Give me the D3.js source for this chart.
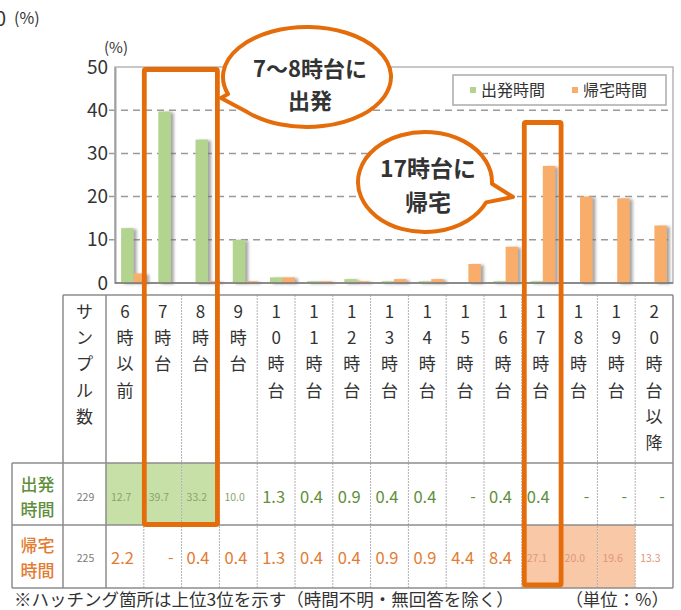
<!DOCTYPE html>
<html lang="ja">
<head>
<meta charset="utf-8">
<script src="https://cdn.jsdelivr.net/npm/d3@7"></script>
<style>
  html, body { margin: 0; padding: 0; background: #fff; }
  svg { display: block; font-family: "Noto Sans CJK JP", "Noto Sans", sans-serif; }
</style>
</head>
<body>
<svg id="chart" width="681" height="610"></svg>
<script>
// 出発時間・帰宅時間の分布（%）
const categories = ["6時以前","7時台","8時台","9時台","10時台","11時台","12時台","13時台","14時台","15時台","16時台","17時台","18時台","19時台","20時台以降"];
const seriesNames = ["出発時間","帰宅時間"];
const departure = [12.7,39.7,33.2,10.0,1.3,0.4,0.9,0.4,0.4,null,0.4,0.4,null,null,null];
const homecoming = [2.2,null,0.4,0.4,1.3,0.4,0.4,0.9,0.9,4.4,8.4,27.1,20.0,19.6,13.3];
const sampleSizes = [229,225];
const yTicks = [0,10,20,30,40,50];
const sampleHeader = "サンプル数";
const callouts = [
  { lines: ["7～8時台に","出発"] },
  { lines: ["17時台に","帰宅"] }
];
const footnote = "※ハッチング箇所は上位3位を示す（時間不明・無回答を除く）";
const unitNote = "（単位：%）";

const seriesData = [departure, homecoming];
const barColors = ["#b3d48e", "#f8ad6b"];
const cellColors = ["#c6e0a8", "#f9c8a6"];
const textColors = ["#5f8f3c", "#e27c33"];
const smallTextColors = ["#8aa36e", "#e0977a"];
const accent = "#e46c0a";

const svg = d3.select("#chart");

// drop shadow for bars
const defs = svg.append("defs");
const shadow = defs.append("filter").attr("id", "barShadow")
  .attr("x", "-50%").attr("y", "-10%").attr("width", "200%").attr("height", "120%");
shadow.append("feDropShadow").attr("dx", 3).attr("dy", 1).attr("stdDeviation", 1.8)
  .attr("flood-color", "#6b6b6b").attr("flood-opacity", 0.6);

// ---- plot area ----
const plot = { left: 115, right: 673, top: 67, bottom: 283 };
const x0 = d3.scaleBand().domain(categories).range([plot.left, plot.right]);
const x1 = d3.scaleBand().domain(seriesNames)
  .range([x0.bandwidth() * 0.165, x0.bandwidth() * 0.835]);
const y = d3.scaleLinear().domain([0, 50]).range([plot.bottom, plot.top]);

// top-left remnant label
svg.append("text").attr("x", -5).attr("y", 26).attr("font-size", 20).attr("fill", "#333").text("0");
svg.append("text").attr("x", 14).attr("y", 24).attr("font-size", 16).attr("fill", "#333").text("(%)");

// dashed grid
svg.append("g").selectAll("line").data(yTicks.filter(t => t > 0 && t < 50)).join("line")
  .attr("x1", plot.left - 6).attr("x2", plot.right)
  .attr("y1", d => y(d)).attr("y2", d => y(d))
  .attr("stroke", "#9a9a9a").attr("stroke-width", 1.5).attr("stroke-dasharray", "7,5");

// frame
svg.append("rect").attr("x", plot.left).attr("y", plot.top)
  .attr("width", plot.right - plot.left).attr("height", plot.bottom - plot.top)
  .attr("fill", "none").attr("stroke", "#b5b5b5").attr("stroke-width", 1.5);

// y axis
const yAxis = d3.axisLeft(y).tickValues(yTicks).tickSize(0).tickPadding(7);
const gy = svg.append("g").attr("transform", `translate(${plot.left},0)`).call(yAxis);
gy.select(".domain").attr("stroke", "#a0a0a0").attr("stroke-width", 2);
gy.selectAll("text").attr("font-size", 19).attr("fill", "#333")
  .attr("font-family", "'Noto Sans CJK JP', sans-serif");
svg.append("text").attr("x", 104).attr("y", 53).attr("font-size", 15).attr("fill", "#333").text("(%)");

// bars
const bars = svg.append("g").attr("filter", "url(#barShadow)");
seriesData.forEach((vals, si) => {
  bars.append("g").selectAll("rect")
    .data(categories.map((c, i) => ({ c, v: vals[i] })).filter(d => d.v != null))
    .join("rect")
    .attr("x", d => x0(d.c) + x1(seriesNames[si]))
    .attr("y", d => y(d.v))
    .attr("width", x1.bandwidth())
    .attr("height", d => y(0) - y(d.v))
    .attr("fill", barColors[si]);
});

// baseline
svg.append("line").attr("x1", plot.left).attr("x2", plot.right)
  .attr("y1", y(0)).attr("y2", y(0)).attr("stroke", "#777").attr("stroke-width", 1.5);

// legend
const lg = svg.append("g");
lg.append("rect").attr("x", 453).attr("y", 75).attr("width", 213).attr("height", 30)
  .attr("fill", "#fff").attr("stroke", "#aaa").attr("stroke-width", 1.5);
const legendX = [470, 572];
seriesNames.forEach((name, i) => {
  lg.append("rect").attr("x", legendX[i]).attr("y", 87).attr("width", 6).attr("height", 6).attr("fill", barColors[i]);
  lg.append("text").attr("x", legendX[i] + 11).attr("y", 96).attr("font-size", 16)
    .attr("fill", "#333").text(name);
});

// ---- table ----
const table = { left: 12, labelRight: 63, sampleRight: 106, right: 673,
  top: 295, headBottom: 463, row1Bottom: 525, bottom: 588 };
const tx = d3.scaleBand().domain(categories).range([table.sampleRight, table.right]);
const rowTops = [table.headBottom, table.row1Bottom];
const rowBottoms = [table.row1Bottom, table.bottom];

// highlighted top-3 cells
const top3 = seriesData.map(vals => vals.map((v, i) => ({ v, i })).filter(d => d.v != null)
  .sort((a, b) => b.v - a.v).slice(0, 3).map(d => d.i));
seriesData.forEach((vals, si) => {
  svg.append("g").selectAll("rect").data(top3[si]).join("rect")
    .attr("x", i => tx(categories[i])).attr("y", rowTops[si])
    .attr("width", tx.bandwidth()).attr("height", rowBottoms[si] - rowTops[si])
    .attr("fill", cellColors[si]);
});

// grid lines of table
const tg = svg.append("g");
tg.selectAll("line.inner").data(categories.slice(1)).join("line")
  .attr("x1", c => tx(c)).attr("x2", c => tx(c))
  .attr("y1", table.top).attr("y2", table.bottom)
  .attr("stroke", "#b0b0b0").attr("stroke-width", 1).attr("stroke-dasharray", "2,1");
[[table.labelRight, table.top, table.bottom], [table.sampleRight, table.top, table.bottom],
 [table.right, table.top, table.bottom], [table.left, table.headBottom, table.bottom]]
  .forEach(([xv, y1, y2]) => tg.append("line").attr("x1", xv).attr("x2", xv).attr("y1", y1).attr("y2", y2)
    .attr("stroke", "#8c8c8c").attr("stroke-width", 1.5));
[[table.labelRight, table.top], [table.left, table.headBottom], [table.left, table.row1Bottom], [table.left, table.bottom]]
  .forEach(([x1v, yv]) => tg.append("line").attr("x1", x1v).attr("x2", table.right).attr("y1", yv).attr("y2", yv)
    .attr("stroke", "#8c8c8c").attr("stroke-width", 1.5));

// header: vertical text
const headerLines = [{ cx: (table.labelRight + table.sampleRight) / 2, chars: Array.from(sampleHeader) }]
  .concat(categories.map(c => ({ cx: tx(c) + tx.bandwidth() / 2, chars: Array.from(c) })));
headerLines.forEach(h => {
  svg.append("g").selectAll("text").data(h.chars).join("text")
    .attr("x", h.cx).attr("y", (d, i) => 318 + i * 26.2)
    .attr("text-anchor", "middle").attr("font-size", 17).attr("fill", "#333").text(d => d);
});

// row labels and values
const rowCenters = [497, 558];
seriesNames.forEach((name, si) => {
  const cx = (table.left + table.labelRight) / 2;
  [name.slice(0, 2), name.slice(2)].forEach((t, k) => {
    svg.append("text").attr("x", cx).attr("y", rowCenters[si] - 6 + k * 25)
      .attr("text-anchor", "middle").attr("font-size", 17).attr("font-weight", 500)
      .attr("fill", textColors[si]).text(t);
  });
  svg.append("text").attr("x", (table.labelRight + table.sampleRight) / 2 + 1).attr("y", rowCenters[si] + 4)
    .attr("text-anchor", "middle").attr("font-size", 10.5).attr("fill", "#7a7a7a").text(sampleSizes[si]);

  const vals = seriesData[si];
  categories.forEach((c, i) => {
    const v = vals[i];
    const left = tx(c);
    const t = svg.append("text").attr("fill", textColors[si]);
    if (v == null) {
      t.attr("x", left + tx.bandwidth() / 2 + 8).attr("y", rowCenters[si] + 5)
        .attr("text-anchor", "middle").attr("font-size", 16).text("-");
    } else if (v >= 10 || top3[si].includes(i)) {
      t.attr("x", left + 5).attr("y", rowCenters[si] + 4)
        .attr("font-size", 10.5).attr("fill", smallTextColors[si]).text(v.toFixed(1));
    } else {
      t.attr("x", left + 5).attr("y", rowCenters[si] + 6)
        .attr("font-size", 16.5).text(v.toFixed(1));
    }
  });
});

// footnote
svg.append("text").attr("x", 14).attr("y", 606).attr("font-size", 17.5).attr("fill", "#333").text(footnote);
svg.append("text").attr("x", 669).attr("y", 606).attr("text-anchor", "end").attr("font-size", 17.5).attr("fill", "#333").text(unitNote);

// ---- highlight frames ----
const frames = [
  { x1: tx("7時台") + 0.5, x2: tx("8時台") + tx.bandwidth() - 2, y1: 69.5, y2: 524.5 },
  { x1: tx("17時台") + 2.5, x2: tx("17時台") + tx.bandwidth() + 1.5, y1: 122.5, y2: 585 }
];
svg.append("g").selectAll("rect").data(frames).join("rect")
  .attr("x", d => d.x1).attr("y", d => d.y1)
  .attr("width", d => d.x2 - d.x1).attr("height", d => d.y2 - d.y1)
  .attr("rx", 1.5).attr("fill", "none").attr("stroke", accent).attr("stroke-width", 4.8);

// ---- speech bubbles ----
function bubblePath(cx, cy, rx, ry, a0, a1, tip) {
  const p = a => [cx + rx * Math.cos(a * Math.PI / 180), cy + ry * Math.sin(a * Math.PI / 180)];
  const s = p(a0), e = p(a1);
  return `M${s[0]},${s[1]} A${rx},${ry} 0 1 1 ${e[0]},${e[1]} L${tip[0]},${tip[1]} Z`;
}
const bubbles = [
  { cx: 307, cy: 77, rx: 84, ry: 50, a0: 160, a1: 135, tip: [221, 98], fs: 22, ty: [77, 109] },
  { cx: 425, cy: 182, rx: 67, ry: 50, a0: 24, a1: 2, tip: [513, 197], fs: 23, ty: [177, 211] }
];
bubbles.forEach((b, k) => {
  svg.append("path").attr("d", bubblePath(b.cx, b.cy, b.rx, b.ry, b.a0, b.a1, b.tip))
    .attr("fill", "#fff").attr("stroke", accent).attr("stroke-width", 4).attr("stroke-linejoin", "round");
  callouts[k].lines.forEach((line, j) => {
    svg.append("text").attr("x", b.cx + 3).attr("y", b.ty[j]).attr("text-anchor", "middle")
      .attr("font-size", b.fs).attr("font-weight", 700).attr("fill", "#333").text(line);
  });
});
</script>
</body>
</html>
